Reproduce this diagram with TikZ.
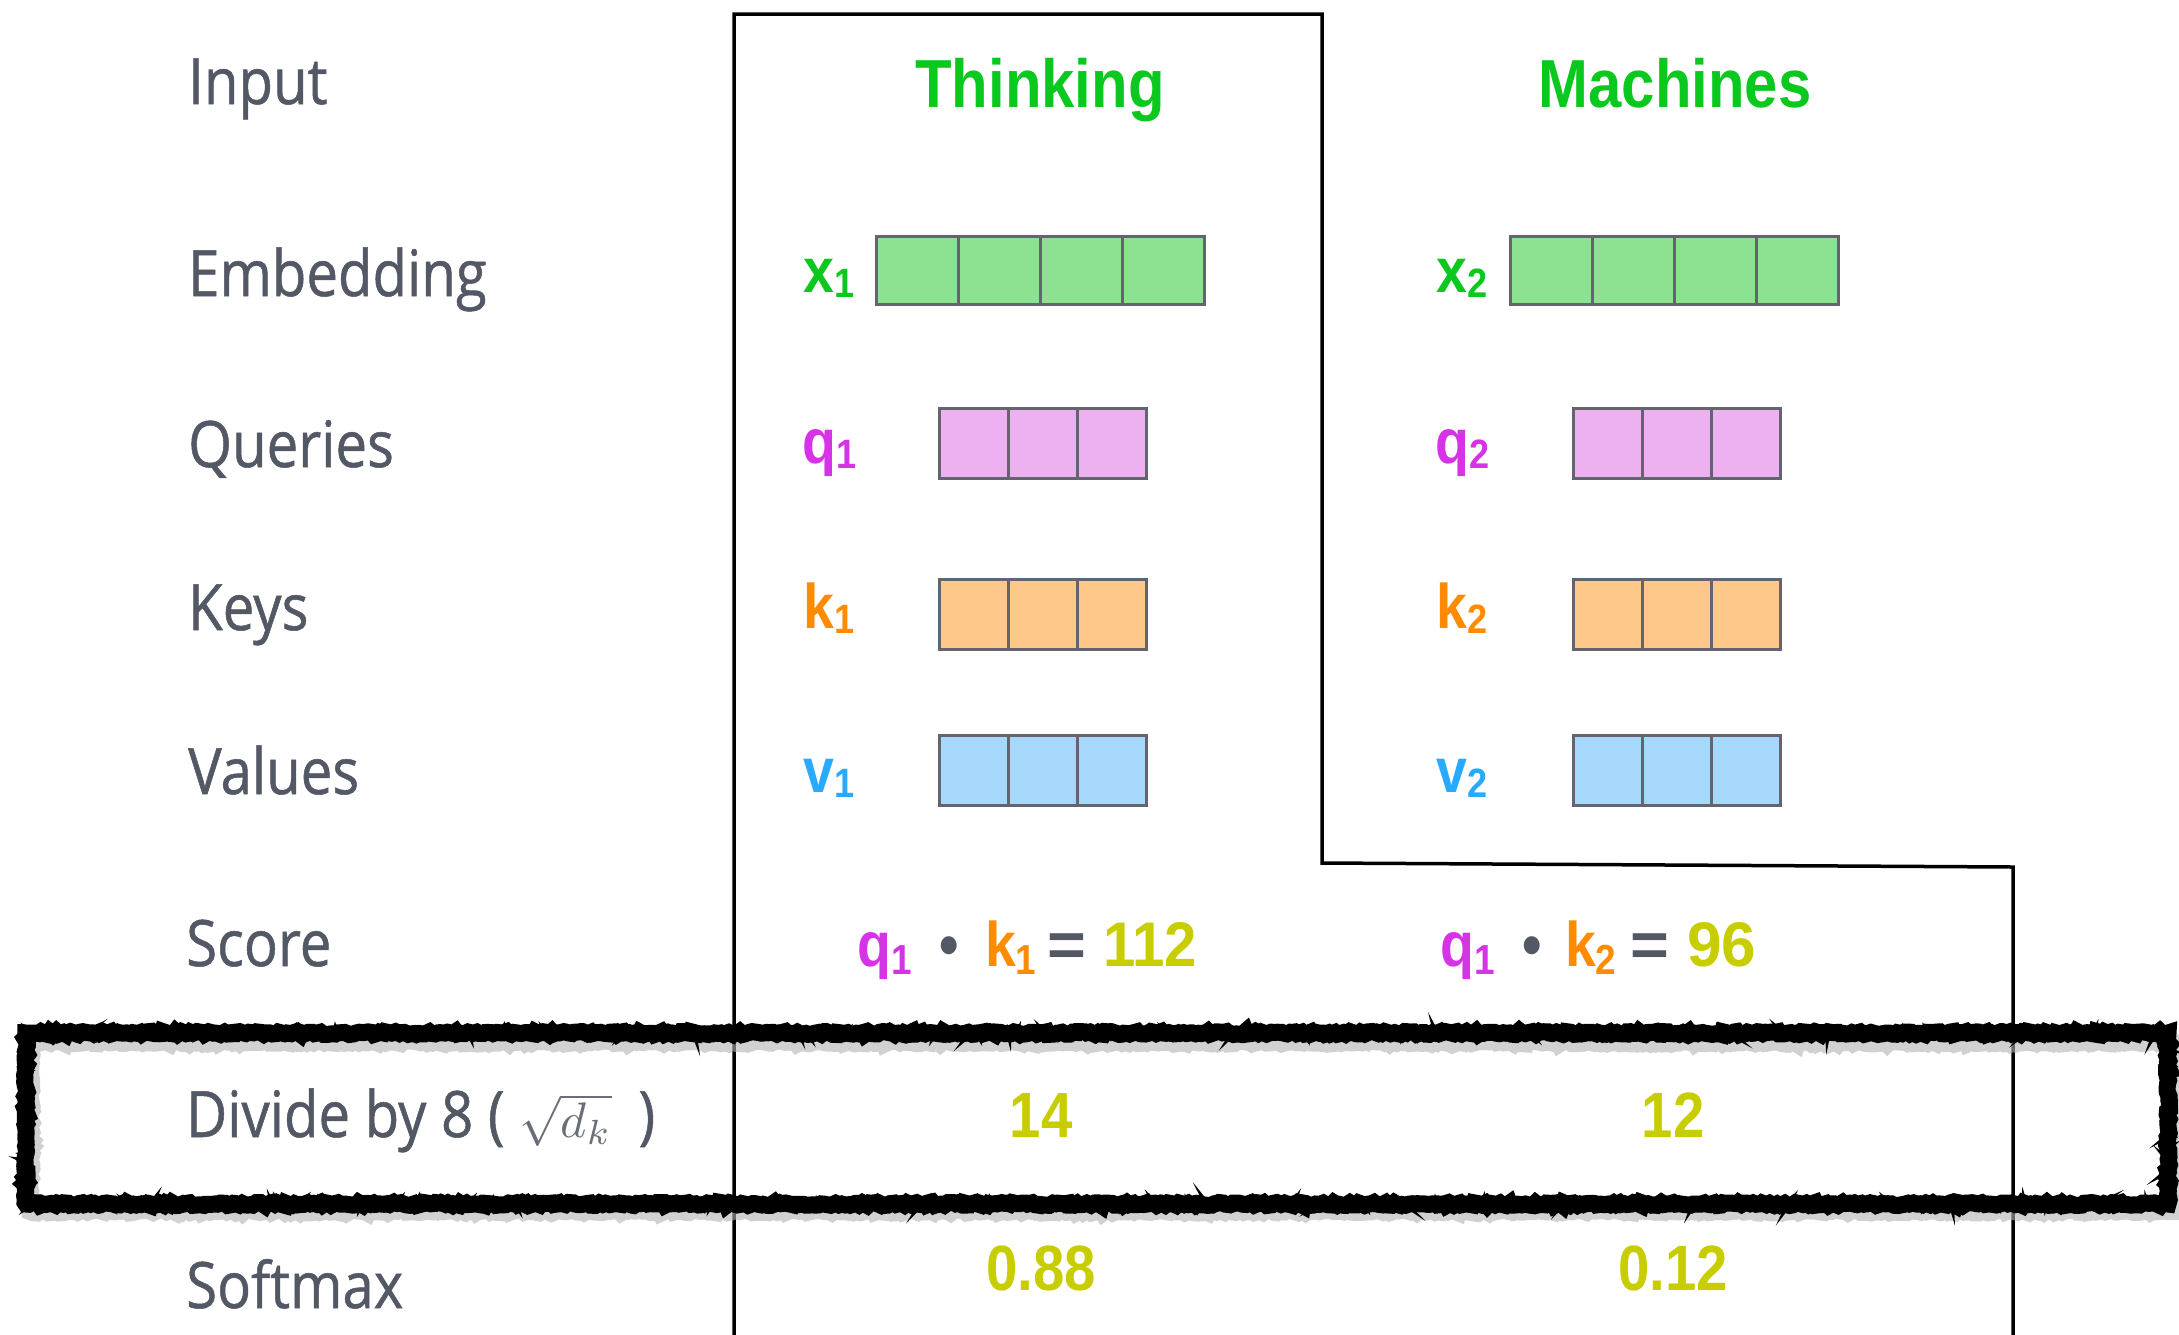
\documentclass[tikz,border=0pt]{standalone}
\usepackage{fontspec}
\setmainfont{Liberation Sans}
\newfontfamily\labfont[FakeStretch=0.88,FakeBold=0.8]{Open Sans}
\newfontfamily\arb[FakeStretch=0.88]{Liberation Sans}
\usetikzlibrary{decorations.pathmorphing}
\definecolor{labgray}{RGB}{82,88,100}
\definecolor{mathgray}{RGB}{105,110,120}
\definecolor{wgreen}{RGB}{10,200,30}
\definecolor{xfill}{RGB}{140,226,144}
\definecolor{qtext}{RGB}{214,50,230}
\definecolor{qfill}{RGB}{237,176,240}
\definecolor{ktext}{RGB}{255,140,0}
\definecolor{kfill}{RGB}{253,200,138}
\definecolor{vtext}{RGB}{40,170,255}
\definecolor{vfill}{RGB}{166,216,252}
\definecolor{numyel}{RGB}{200,205,0}
\definecolor{cellgray}{RGB}{100,100,110}
\newcommand\sub[1]{\raisebox{-5pt}{\fontsize{41}{41}\selectfont #1}}
\newcommand\ssub[1]{\raisebox{-8pt}{\fontsize{42}{42}\selectfont #1}}
\newcommand\eqsign{{\color{labgray}\scalebox{1.2}[1]{=}}}
\begin{document}
\begin{tikzpicture}[x=1pt,y=-1pt,
  lbl/.style={anchor=base west, inner sep=0pt, text=labgray, font=\labfont\fontsize{64}{70}\selectfont},
  word/.style={anchor=base, inner sep=0pt, text=wgreen, font=\arb\bfseries\fontsize{68}{74}\selectfont},
  vlab/.style={anchor=base west, inner sep=0pt, font=\arb\bfseries\fontsize{63}{70}\selectfont},
  num/.style={anchor=base, inner sep=0pt, text=numyel, font=\arb\bfseries\fontsize{64}{70}\selectfont},
  cell/.style={draw=cellgray, line width=2.5pt, inner sep=0pt, anchor=north west},
  xcell/.style={cell, fill=xfill, minimum width=82pt, minimum height=68pt},
  qcell/.style={cell, fill=qfill, minimum width=69pt, minimum height=70pt},
  kcell/.style={cell, fill=kfill, minimum width=69pt, minimum height=70pt},
  vcell/.style={cell, fill=vfill, minimum width=69pt, minimum height=70pt},
  outline/.style={draw=black, line width=3.5pt},
  rough/.style={draw=black, line width=#1, decorate, decoration={random steps, segment length=3pt, amplitude=1.5pt}},
]
\useasboundingbox (0,0) rectangle (2179,1334);
\pgfmathsetseed{7}

% row labels
\node[lbl] (input) at (188,104) {Input};
\node[lbl] (embedding) at (188,296) {Embedding};
\node[lbl] (queries) at (188,467) {Queries};
\node[lbl] (keys) at (188,630) {Keys};
\node[lbl] (values) at (188,794) {Values};
\node[lbl] (score) at (186,966) {Score};
\node[lbl] (divide) at (186,1137) {Divide by 8 ( {\color{mathgray}\fontsize{10}{12}\selectfont\scalebox{5}{$\sqrt{d_k}$}}\hspace{27pt})};
\node[lbl] (softmax) at (186,1308) {Softmax};

% outline
\draw[outline] (734,1340) -- (734,14) -- (1322,14) -- (1322,863) -- (2013,867) -- (2013,1340);

% words
\node[word] (thinking) at (1040,107) {Thinking};
\node[word] (machines) at (1675,107) {Machines};

% vectors
\foreach \c/\o in {1/0,2/634}{
  \foreach \i in {0,...,3}
    \node[xcell] (x\c c\i) at ({875+\o+82*\i},235) {};
  \foreach \i in {0,1,2}{
    \node[qcell] (q\c c\i) at ({938+\o+69*\i},407) {};
    \node[kcell] (k\c c\i) at ({938+\o+69*\i},578) {};
    \node[vcell] (v\c c\i) at ({938+\o+69*\i},734) {};
  }
}

% vector labels
\node[vlab, text=wgreen] (xlab1) at (803,292) {x\sub{1}};
\node[vlab, text=wgreen] (xlab2) at (1436,292) {x\sub{2}};
\node[vlab, text=qtext] (qlab1) at (802,463) {q\sub{1}};
\node[vlab, text=qtext] (qlab2) at (1435,463) {q\sub{2}};
\node[vlab, text=ktext] (klab1) at (803,628) {k\sub{1}};
\node[vlab, text=ktext] (klab2) at (1436,628) {k\sub{2}};
\node[vlab, text=vtext] (vlab1) at (803,792) {v\sub{1}};
\node[vlab, text=vtext] (vlab2) at (1436,792) {v\sub{2}};

% score
\node[vlab] (score1) at (857,966) {{\color{qtext}q\ssub{1}}\hspace{28pt}{\color{labgray}•}\hspace{26pt}{\color{ktext}k\ssub{1}}\hspace{11pt}\eqsign\hspace{17pt}{\color{numyel}\scalebox{1.05}[1]{112}}};
\node[vlab] (score2) at (1440,966) {{\color{qtext}q\ssub{1}}\hspace{28pt}{\color{labgray}•}\hspace{23pt}{\color{ktext}k\ssub{2}}\hspace{14pt}\eqsign\hspace{18pt}{\color{numyel}\scalebox{1.12}[1]{96}}};

% divide and softmax
\node[num] (div1) at (1041,1137) {14};
\node[num] (div2) at (1673,1137) {12};
\node[num] (soft1) at (1041,1290) {0.88};
\node[num] (soft2) at (1673,1290) {0.12};

% rough highlight box
\draw[rough=18pt, draw=black!30, opacity=0.6] (30,1042) rectangle (2173,1211);
\draw[rough=17pt] (26,1033) rectangle (2168,1204);
\draw[rough=5pt, decoration={random steps, segment length=2pt, amplitude=2.5pt}] (26,1033) rectangle (2168,1204);
\end{tikzpicture}
\end{document}
